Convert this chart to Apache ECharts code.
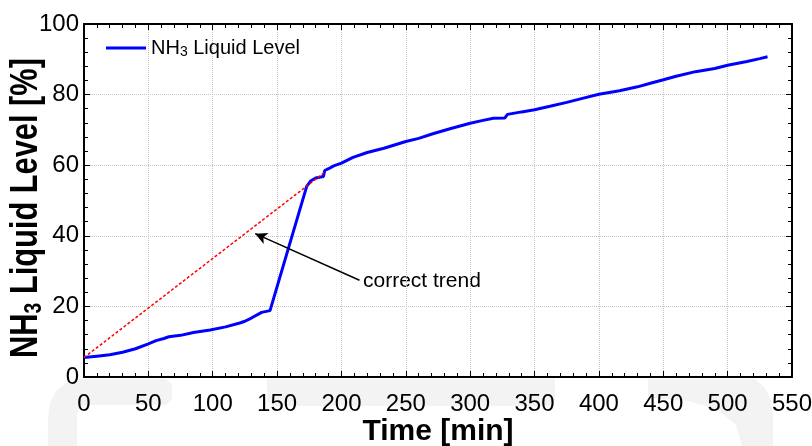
<!DOCTYPE html>
<html>
<head>
<meta charset="utf-8">
<script src="https://cdn.jsdelivr.net/npm/echarts@6/dist/echarts.min.js"></script>
<style>
  html, body { margin: 0; padding: 0; background: #fff; }
  #chart { width: 812px; height: 446px; }
</style>
</head>
<body>
<div id="chart"></div>
<script>
// measured liquid level [min, %]
const levelData = [
  [0, 5.5], [10, 5.9], [20, 6.3], [30, 7.0], [40, 8.0], [50, 9.4], [56, 10.3],
  [62, 10.9], [66, 11.4], [75, 11.8], [85, 12.6], [98, 13.3], [110, 14.2],
  [121, 15.3], [125, 15.8], [130, 16.7], [138, 18.3], [144.5, 18.8],
  [173, 54.0], [176, 55.5], [180, 56.4], [186, 56.8], [187, 58.5], [190, 59.0],
  [194, 59.8], [200, 60.6], [209, 62.2], [220, 63.6], [233, 64.8], [250, 66.7],
  [260, 67.6], [271, 68.9], [285, 70.4], [300, 71.9], [310, 72.7], [318, 73.3],
  [327, 73.4], [329, 74.4], [340, 75.1], [350, 75.7], [362, 76.7], [375, 77.8],
  [388, 79.0], [400, 80.1], [416, 81.1], [430, 82.2], [440, 83.2], [448, 84.0],
  [460, 85.2], [475, 86.5], [490, 87.4], [500, 88.3], [515, 89.4], [525, 90.2],
  [531, 90.7]
]
// red dashed "correct trend" line
const trendData = [[0, 5.5], [187, 58]]
// arrow from label to trend line
const arrowFrom = [214, 27.4]
const arrowTo = [133, 40.6]
const xTicks = { min: 0, max: 550, interval: 50 }
const yTicks = { min: 0, max: 100, interval: 20 }

const chart = echarts.init(document.getElementById('chart'))

const gridLine = { show: true, lineStyle: { color: '#c4c4c4', type: 'dotted', width: 1 } }
const axLine = { show: true, onZero: false, lineStyle: { color: '#000', width: 2 } }
const tick = { show: true, inside: true, length: 6, lineStyle: { color: '#000', width: 1 } }
const minor = { show: true, splitNumber: 5, length: 4, lineStyle: { color: '#000', width: 1 } }

// faint background shapes under the x axis
const wmLeft = [[48,446],[48,418],[50,403],[56,391],[66,383],[78,379.5],[88,379],[166,379],[172,385],[172,399],[166,405],[86,405],[79,408],[77,414],[77,446]]
const wmMid = [[267,379],[555,379],[555,400],[549,406],[273,406],[267,400]]
const wmRight = [[648,379],[648,398],[689,401],[718,410],[736,425],[742,446],[773,446],[773,415],[771,400],[765,388],[755,379]]

const option = {
  animation: false,
  backgroundColor: '#fff',
  grid: { left: 84, right: 20, top: 24, bottom: 69, outerBoundsMode: 'none' },
  legend: {
    left: 106, top: 33, padding: 0,
    icon: 'rect', itemWidth: 40, itemHeight: 3, itemGap: 5,
    data: ['NH3 Liquid Level'],
    itemStyle: { color: '#0000ff' },
    formatter: () => '{a|NH}{s|3}{a| Liquid Level}',
    textStyle: {
      color: '#000',
      rich: {
        a: { fontFamily: 'Liberation Sans, Arial', fontSize: 20, color: '#000', verticalAlign: 'middle', lineHeight: 22 },
        s: { fontFamily: 'Liberation Sans, Arial', fontSize: 14, color: '#000', verticalAlign: 'bottom', lineHeight: 14, padding: [12, 0, 0, 0] }
      }
    }
  },
  xAxis: [{
    type: 'value', position: 'bottom',
    min: xTicks.min, max: xTicks.max, interval: xTicks.interval,
    name: 'Time [min]', nameLocation: 'middle', nameGap: 40, nameMoveOverlap: false,
    nameTextStyle: { fontFamily: 'Liberation Sans, Arial', fontWeight: 'bold', fontSize: 30, color: '#000' },
    axisLine: axLine, axisTick: tick, minorTick: minor,
    splitLine: gridLine,
    axisLabel: { margin: 15, color: '#000', fontSize: 24, fontFamily: 'Liberation Sans Narrow, Liberation Sans, Arial' }
  }, {
    type: 'value', position: 'top',
    min: xTicks.min, max: xTicks.max, interval: xTicks.interval,
    axisLine: axLine, axisTick: tick, minorTick: minor,
    splitLine: { show: false }, axisLabel: { show: false }
  }],
  yAxis: [{
    type: 'value', position: 'left',
    min: yTicks.min, max: yTicks.max, interval: yTicks.interval,
    axisLine: axLine, axisTick: tick, minorTick: minor,
    splitLine: gridLine,
    axisLabel: { margin: 5, color: '#000', fontSize: 24, fontFamily: 'Liberation Sans, Arial' }
  }, {
    type: 'value', position: 'right',
    min: yTicks.min, max: yTicks.max, interval: yTicks.interval,
    axisLine: axLine, axisTick: tick, minorTick: minor,
    splitLine: { show: false }, axisLabel: { show: false }
  }],
  series: [
    {
      name: 'NH3 Liquid Level',
      type: 'line',
      data: levelData,
      symbol: 'none',
      lineStyle: { color: '#0000ff', width: 3 },
      itemStyle: { color: '#0000ff' },
      z: 3
    },
    {
      name: 'trend',
      type: 'line',
      data: trendData,
      symbol: 'none',
      lineStyle: { color: '#ff0000', width: 1.5, type: [3, 2] },
      z: 4,
      markLine: {
        silent: true,
        symbol: ['none', 'arrow'],
        symbolSize: [9, 12],
        label: { show: false },
        lineStyle: { color: '#000', width: 1.5, type: 'solid' },
        data: [[{ coord: arrowFrom }, { coord: arrowTo }]]
      }
    }
  ],
  graphic: [
    { type: 'polygon', z: -10, shape: { points: wmLeft }, style: { fill: '#f3f3f3' } },
    { type: 'polygon', z: -10, shape: { points: wmMid }, style: { fill: '#f3f3f3' } },
    { type: 'polygon', z: -10, shape: { points: wmRight }, style: { fill: '#f3f3f3' } },
    {
      type: 'text', x: 27, y: 208, rotation: Math.PI / 2, scaleX: 0.81,
      style: {
        text: '{a|NH}{s|3}{a| Liquid Level [%]}',
        align: 'center', verticalAlign: 'middle',
        rich: {
          a: { fontFamily: 'Liberation Sans, Arial', fontWeight: 'bold', fontSize: 38, fill: '#000', verticalAlign: 'middle', lineHeight: 38 },
          s: { fontFamily: 'Liberation Sans, Arial', fontWeight: 'bold', fontSize: 24, fill: '#000', verticalAlign: 'bottom', lineHeight: 24, padding: [20, 0, 0, 0] }
        }
      }
    },
    {
      type: 'text', x: 363, y: 281,
      style: { text: 'correct trend', font: '21px "Liberation Sans", Arial', fill: '#000', verticalAlign: 'middle' }
    }
  ]
}
chart.setOption(option)
</script>
</body>
</html>
